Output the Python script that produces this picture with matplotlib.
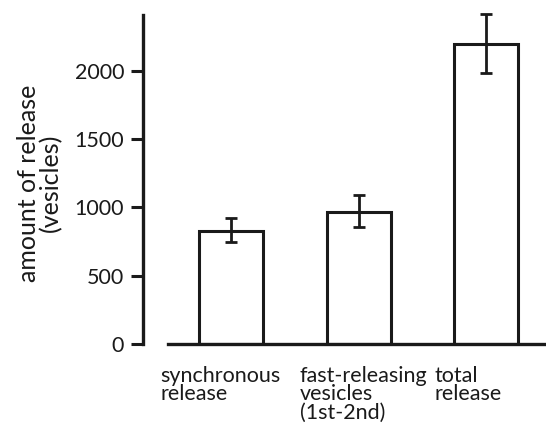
import matplotlib
matplotlib.use("Agg")
import matplotlib.pyplot as plt
import matplotlib.transforms as mtransforms

categories = ["synchronous\nrelease", "fast-releasing\nvesicles\n(1st-2nd)", "total\nrelease"]
means = [830, 970, 2195]
err_low = [85, 115, 210]
err_high = [90, 125, 220]
yticks = [0, 500, 1000, 1500, 2000]

plt.rcParams['font.family'] = ['Lato', 'DejaVu Sans']

fig = plt.figure(figsize=(5.46, 4.26), dpi=100)
ax = fig.add_axes([143/546, 1-344/426, 1-143/546, (344-15)/426])

x = list(range(len(categories)))
ax.bar(x, means, width=0.5, color='white', edgecolor='#1a1a1a', linewidth=2.2, zorder=2)
ax.errorbar(x, means, yerr=[err_low, err_high], fmt='none', ecolor='#1a1a1a',
            elinewidth=2.0, capsize=4, capthick=2.0, zorder=3, clip_on=False)

ax.set_xlim(-0.684, 2.465)
ax.set_ylim(0, 2410)
ax.set_yticks(yticks)
ax.set_yticklabels([str(t) for t in yticks], fontsize=15.5)
ax.tick_params(axis='y', length=8.5, width=2.2, color='#1a1a1a', pad=5, labelcolor='#1a1a1a')

ax.spines['top'].set_visible(False)
ax.spines['right'].set_visible(False)
ax.spines['left'].set_linewidth(2.4)
ax.spines['left'].set_color('#1a1a1a')
ax.spines['bottom'].set_linewidth(2.4)
ax.spines['bottom'].set_color('#1a1a1a')
ax.spines['bottom'].set_bounds(-0.49, 2.465)

ax.set_xticks(x)
ax.set_xticklabels(categories, fontsize=15.5, ha='left', va='top', linespacing=0.92)
ax.tick_params(axis='x', length=0, pad=15.5, labelcolor='#1a1a1a')
for lbl, dx in zip(ax.get_xticklabels(), [-70, -59, -52]):
    lbl.set_transform(lbl.get_transform() + mtransforms.ScaledTranslation(dx/100, 0, fig.dpi_scale_trans))

ax.set_ylabel("amount of release\n(vesicles)", fontsize=18, linespacing=0.95, color='#1a1a1a')
ax.yaxis.set_label_coords(-0.201, 0.489)

fig.savefig("out.png", dpi=100)
